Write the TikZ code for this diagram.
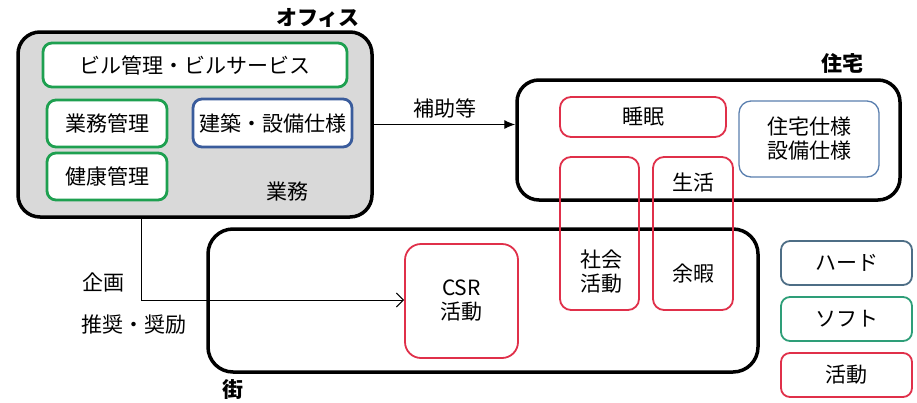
\documentclass[tikz,border=0pt]{standalone}
\usepackage{fontspec}
\setmainfont{Noto Sans CJK JP}
\usetikzlibrary{arrows.meta}
\definecolor{sgreen}{HTML}{1EA050}
\definecolor{hblue}{HTML}{3A5C9C}
\definecolor{lblue}{HTML}{5A7FAF}
\definecolor{legblue}{HTML}{4E6E86}
\definecolor{leggreen}{HTML}{2E9E78}
\definecolor{actred}{HTML}{E0304A}
\definecolor{officegray}{HTML}{D9D9D9}
\newcommand{\dgfont}{\fontsize{21}{24}\selectfont}
\tikzset{
  area/.style={draw=black, line width=3.5pt, rounded corners=22pt, inner sep=0pt},
  softbox/.style={draw=sgreen, fill=white, line width=2.8pt, rounded corners=9pt, inner sep=0pt, font=\dgfont},
  hardbox/.style={draw=hblue, fill=white, line width=2.8pt, rounded corners=9pt, inner sep=0pt, font=\dgfont},
  lhardbox/.style={draw=lblue, line width=1.3pt, rounded corners=12pt, inner sep=0pt, align=center, font=\dgfont},
  actbox/.style={draw=actred, line width=1.8pt, rounded corners=11pt, inner sep=0pt, font=\dgfont},
  legbox/.style={line width=1.8pt, rounded corners=9pt, inner sep=0pt, minimum width=131pt, minimum height=44pt, fill=white, font=\dgfont},
  txt/.style={inner sep=0pt, font=\dgfont, align=center},
  title/.style={inner sep=0pt, font=\fontsize{21}{24}\selectfont\bfseries},
  conn/.style={draw=black, line width=1pt}
}
\begin{document}
\begin{tikzpicture}[x=1pt, y=-1pt]
\useasboundingbox (0,0) rectangle (917,402);
% office
\node[area, fill=officegray, minimum width=354pt, minimum height=185pt] (office) at (195,124.5) {};
\node[title] (officelbl) at (318,18) {オフィス};
\node[softbox, minimum width=304pt, minimum height=44pt] (bldg) at (195,65) {ビル管理・ビルサービス};
\node[softbox, minimum width=120pt, minimum height=47pt] (work) at (107,123.5) {業務管理};
\node[hardbox, minimum width=159pt, minimum height=48pt] (arch) at (272.5,123) {建築・設備仕様};
\node[softbox, minimum width=120pt, minimum height=47pt] (health) at (107,176.5) {健康管理};
\node[txt] (gyomu) at (287,192) {業務};
% house
\node[area, fill=white, minimum width=383pt, minimum height=120pt] (home) at (708.5,140) {};
\node[title] (homelbl) at (842,63) {住宅};
\node[lhardbox, minimum width=140pt, minimum height=76pt] (homespec) at (809,139) {住宅仕様\\設備仕様};
% town
\node[area, fill=white, minimum width=550pt, minimum height=143pt, rounded corners=25pt] (town) at (483,300.5) {};
\node[title] (townlbl) at (233,390) {街};
% activities
\node[actbox, fill=white, minimum width=166pt, minimum height=40pt] (sleep) at (643,117) {睡眠};
\node[actbox, minimum width=79pt, minimum height=153pt] (social) at (599.5,233.5) {};
\node[txt] (socialtxt) at (601,272) {社会\\活動};
\node[actbox, minimum width=80pt, minimum height=153pt] (life) at (693,233.5) {};
\node[txt] (lifetxt) at (693,183) {生活};
\node[txt] (leisure) at (693,274) {余暇};
\node[actbox, fill=white, minimum width=113pt, minimum height=114pt, rounded corners=16pt, align=center] (csr) at (461.5,301) {CSR\\活動};
% connectors
\draw[conn, -{Latex[length=11pt,width=9pt]}] (office.east) -- (office.east -| home.west)
  node[midway, above=6pt, txt] (hojo) {補助等};
\coordinate (turn) at (141,300);
\draw[conn, -{Straight Barb[length=7pt,width=14pt]}] (turn |- office.south) -- (turn) -- (csr.west |- turn);
\node[txt, anchor=west] (kikaku) at (82,282) {企画};
\node[txt, anchor=west] (suisho) at (81,325) {推奨・奨励};
% legend
\node[legbox, draw=legblue] (lhard) at (846.5,263) {ハード};
\node[legbox, draw=leggreen] (lsoft) at (846.5,319) {ソフト};
\node[legbox, draw=actred] (lact) at (846.5,375) {活動};
\end{tikzpicture}
\end{document}
